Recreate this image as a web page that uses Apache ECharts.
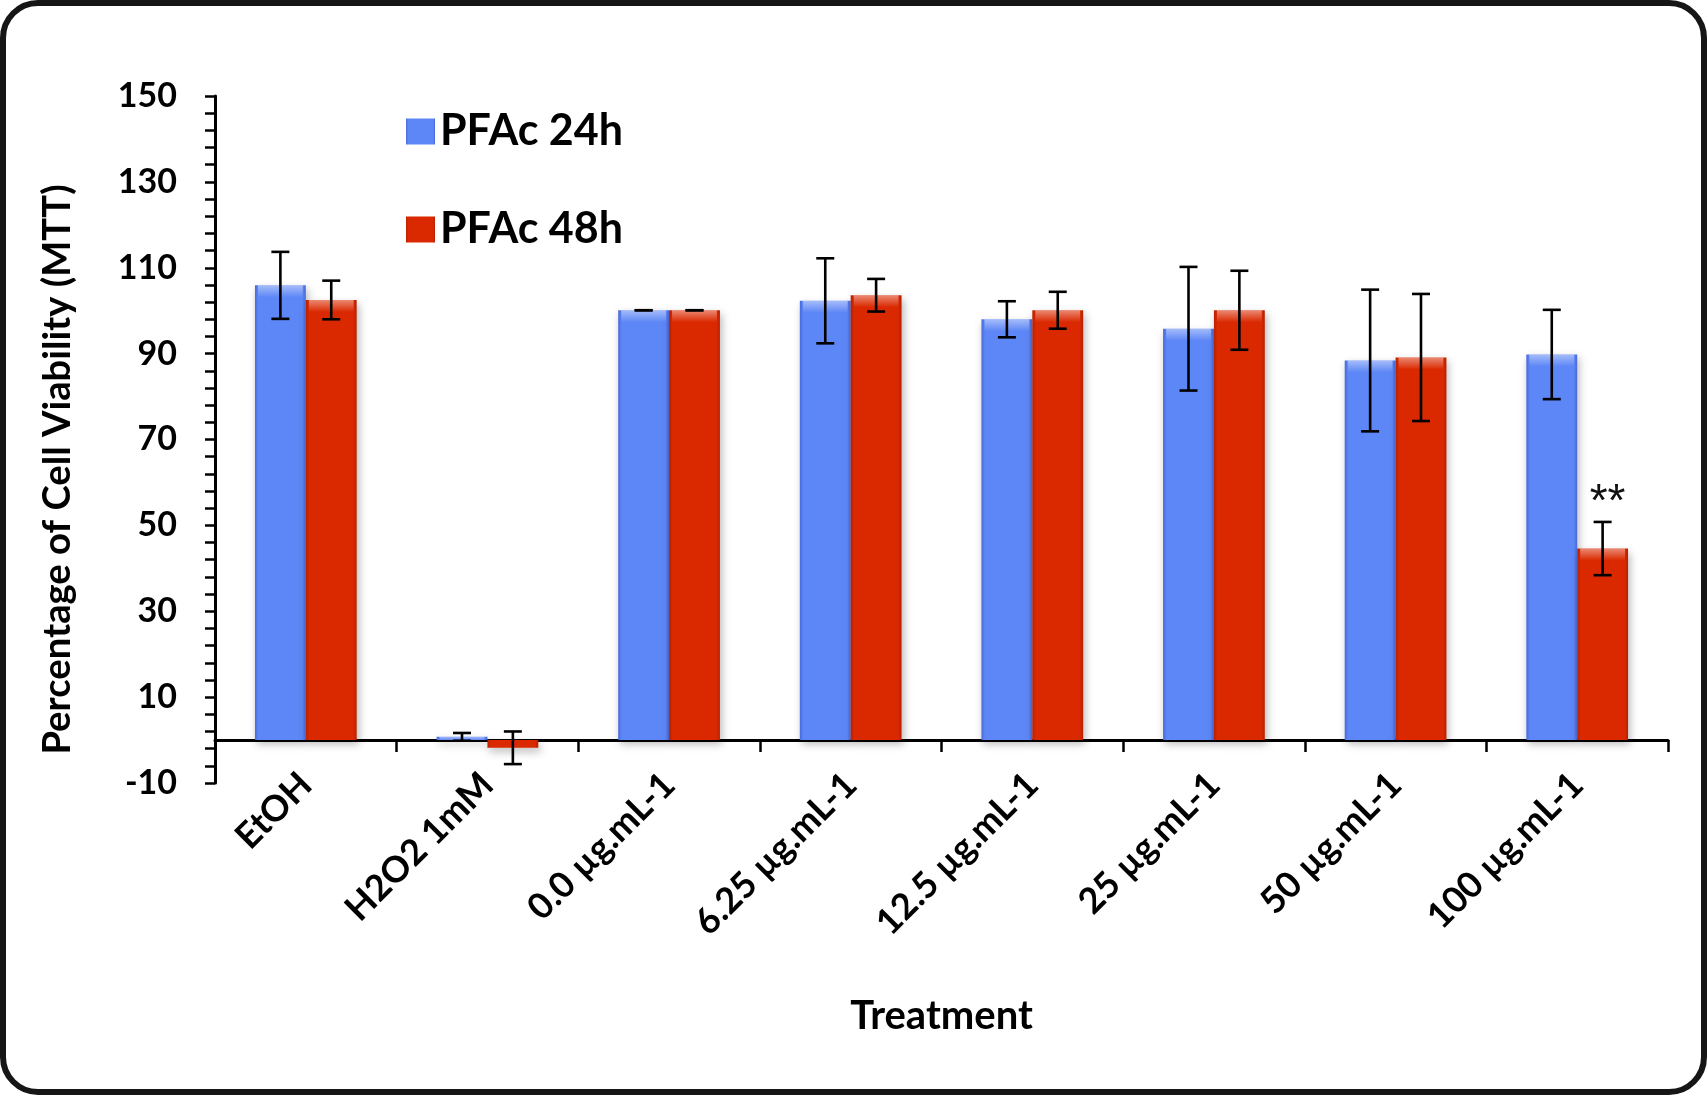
<!DOCTYPE html>
<html>
<head>
<meta charset="utf-8">
<script src="https://cdn.jsdelivr.net/npm/echarts@6/dist/echarts.min.js"></script>
<style>
html,body{margin:0;padding:0;background:#fff;}
#wrap{position:relative;width:1707px;height:1095px;}
#chart{position:absolute;left:0;top:0;width:1707px;height:1095px;}
#frame{position:absolute;left:0;top:0;width:1707px;height:1095px;box-sizing:border-box;border:6px solid #161616;border-radius:38px;pointer-events:none;}
</style>
</head>
<body>
<div id="wrap"><div id="chart"></div><div id="frame"></div></div>
<script>
const categories = ['EtOH', 'H2O2 1mM', '0.0 µg.mL-1', '6.25 µg.mL-1', '12.5 µg.mL-1', '25 µg.mL-1', '50 µg.mL-1', '100 µg.mL-1'];
const seriesNames = ['PFAc 24h', 'PFAc 48h'];
const pfac24 = [105.9, 0.75, 100.1, 102.3, 98.0, 95.8, 88.4, 89.8];
const err24 = [7.8, 0.9, 0, 9.9, 4.2, 14.4, 16.5, 10.4];
const pfac48 = [102.5, -1.8, 100.1, 103.6, 100.1, 100.1, 89.1, 44.6];
const err48 = [4.5, 3.8, 0, 3.8, 4.3, 9.2, 14.8, 6.2];
const marks48 = ['', '', '', '', '', '', '', '**'];
const yTicks = { min: -10, max: 150, step: 20 };

const FONT = 'Lato';
const BAR_GAP_CAT = 0.44;
const halfBar = (1 - BAR_GAP_CAT) / 4; // offset of each bar centre in band units

function grad(edge, main) {
  return { type: 'linear', x: 0, y: 0, x2: 1, y2: 0, colorStops: [
    { offset: 0, color: edge }, { offset: 0.07, color: main },
    { offset: 0.93, color: main }, { offset: 1, color: edge }] };
}

function errSeries(vals, errs, marks, side) {
  return {
    type: 'custom',
    z: 10,
    silent: true,
    encode: { x: 0, y: 1 },
    data: vals.map((v, i) => [i, v, errs[i], i]),
    renderItem: function (params, api) {
      const i = api.value(0), v = api.value(1), e = api.value(2);
      const band = api.size([1, 0])[0];
      const c = api.coord([i, v]);
      const x = c[0] + side * halfBar * band;
      const bw = 2 * halfBar * band;
      const yt = api.coord([i, v + e])[1];
      const yb = api.coord([i, v - e])[1];
      const y0 = api.coord([i, 0])[1];
      const hw = 9;
      const st = { stroke: '#000', lineWidth: 2.6 };
      const children = [];
      const hl = Math.min(12, y0 - c[1]);
      if (hl > 2) {
        children.push({ type: 'rect', shape: { x: x - bw / 2 + 3, y: c[1], width: bw - 6, height: hl },
          style: { fill: { type: 'linear', x: 0, y: 0, x2: 0, y2: 1, colorStops: [
            { offset: 0, color: 'rgba(255,255,255,0.45)' }, { offset: 1, color: 'rgba(255,255,255,0)' }] } } });
      }
      children.push(
        { type: 'line', shape: { x1: x, y1: yt, x2: x, y2: yb }, style: st },
        { type: 'line', shape: { x1: x - hw, y1: yt, x2: x + hw, y2: yt }, style: st },
        { type: 'line', shape: { x1: x - hw, y1: yb, x2: x + hw, y2: yb }, style: st }
      );
      const m = marks ? marks[api.value(3)] : '';
      if (m) {
        children.push({ type: 'text', style: { text: m, x: x + 5, y: yt - 19, align: 'center', verticalAlign: 'middle',
          font: '46px "Liberation Sans"', fill: '#111' } });
      }
      return { type: 'group', children: children };
    }
  };
}

const chart = echarts.init(document.getElementById('chart'), null, { renderer: 'canvas' });
chart.setOption({
  animation: false,
  backgroundColor: '#fff',
  grid: { left: 215, right: 39, top: 96, bottom: 312 },
  legend: {
    data: seriesNames,
    orient: 'vertical',
    left: 406, top: 110,
    padding: 0,
    itemWidth: 29, itemHeight: 26,
    itemGap: 55,
    icon: 'rect',
    textStyle: { fontFamily: FONT, fontWeight: 'bold', fontSize: 43, lineHeight: 43, color: '#000' }
  },
  xAxis: {
    type: 'category',
    data: categories,
    name: 'Treatment',
    nameLocation: 'middle',
    nameGap: 213,
    nameMoveOverlap: false,
    nameTextStyle: { fontFamily: FONT, fontWeight: 'bold', fontSize: 40, color: '#000' },
    axisLine: { onZero: true, lineStyle: { color: '#000', width: 3 } },
    axisTick: { show: true, length: 12, lineStyle: { color: '#000', width: 2.5 } },
    axisLabel: { rotate: 45, margin: -4, fontFamily: FONT, fontWeight: 'bold', fontSize: 36, color: '#000', interval: 0 },
    splitLine: { show: false }
  },
  yAxis: {
    type: 'value',
    min: yTicks.min, max: yTicks.max, interval: yTicks.step,
    name: 'Percentage of Cell Viability (MTT)',
    nameLocation: 'middle',
    nameRotate: 90,
    nameGap: 138,
    nameMoveOverlap: false,
    nameTextStyle: { fontFamily: FONT, fontWeight: 'bold', fontSize: 38.2, color: '#000', padding: [0, 60, 0, 0] },
    axisLine: { show: true, lineStyle: { color: '#000', width: 3 } },
    axisTick: { show: true, length: 10, lineStyle: { color: '#000', width: 2.5 } },
    minorTick: { show: true, splitNumber: 5, length: 10, lineStyle: { color: '#000', width: 2.5 } },
    axisLabel: { margin: 38, fontFamily: FONT, fontWeight: 'bold', fontSize: 34, color: '#000' },
    splitLine: { show: false }
  },
  series: [
    { name: seriesNames[0], type: 'bar', data: pfac24, barGap: '0%', barCategoryGap: (BAR_GAP_CAT * 100) + '%',
      itemStyle: { color: grad('#4769dc', '#5d86f6'), shadowColor: 'rgba(0,0,0,0.28)', shadowBlur: 8, shadowOffsetX: 2, shadowOffsetY: 4 } },
    { name: seriesNames[1], type: 'bar', data: pfac48, barGap: '0%', barCategoryGap: (BAR_GAP_CAT * 100) + '%',
      itemStyle: { color: grad('#b81f00', '#da2900'), shadowColor: 'rgba(0,0,0,0.28)', shadowBlur: 8, shadowOffsetX: 2, shadowOffsetY: 4 } },
    errSeries(pfac24, err24, null, -1),
    errSeries(pfac48, err48, marks48, 1)
  ]
});
</script>
</body>
</html>
